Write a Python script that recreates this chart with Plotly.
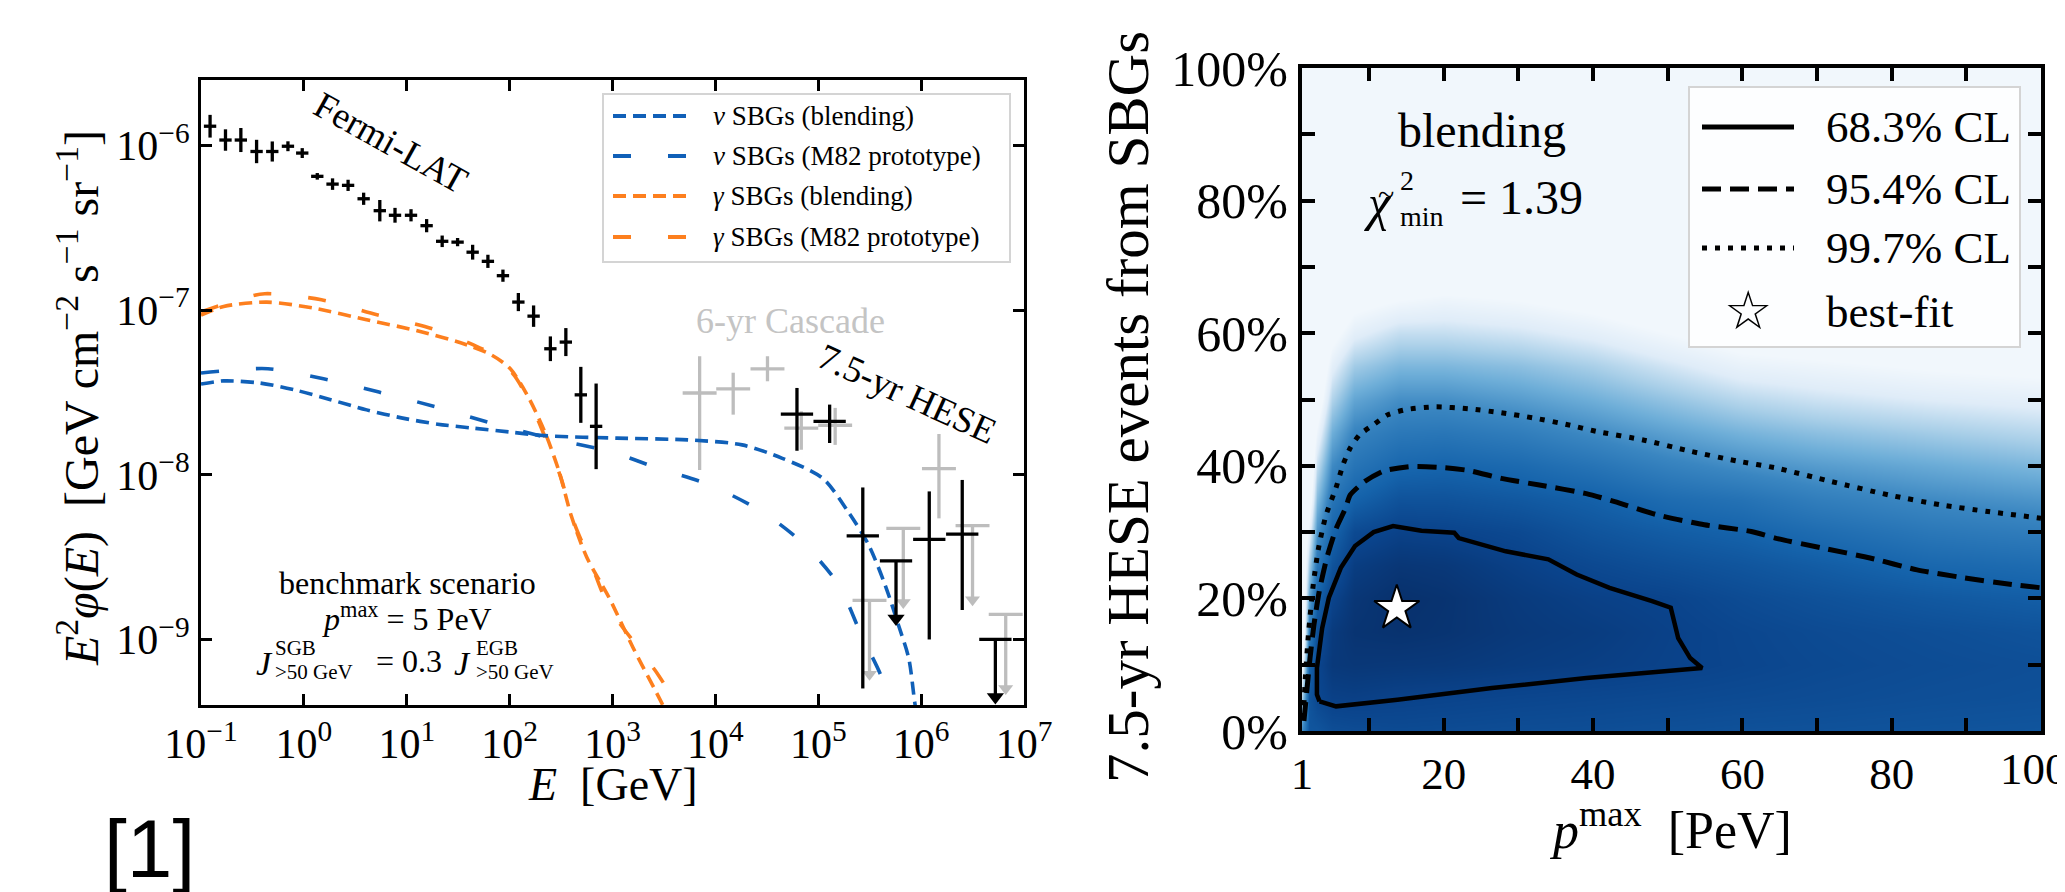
import plotly.graph_objects as go

W, H = 2065, 892
SERIF = "Liberation Serif"

# ---------------- left panel: data ----------------
fermi_E = [0.1225, 0.173, 0.244, 0.347, 0.493, 0.700, 0.964, 1.35, 1.90, 2.69, 3.81, 5.47, 7.69,
           11.0, 15.6, 22.1, 31.2, 43.7, 61.5, 86.1, 121.6, 171, 249, 352, 492, 693]
fermi_F = [1.31e-6, 1.08e-6, 1.08e-6, 9.2e-7, 9.2e-7, 9.9e-7, 9.0e-7, 6.5e-7, 5.83e-7, 5.73e-7,
           4.75e-7, 4.02e-7, 3.77e-7, 3.77e-7, 3.26e-7, 2.62e-7, 2.59e-7, 2.25e-7, 1.98e-7,
           1.62e-7, 1.12e-7, 9.2e-8, 5.83e-8, 6.4e-8, 3.06e-8, 1.97e-8]
fermi_err_dex = [0.069, 0.065, 0.073, 0.071, 0.061, 0.03, 0.03, 0.02, 0.035, 0.034, 0.037, 0.065,
                 0.045, 0.037, 0.04, 0.035, 0.025, 0.045, 0.04, 0.037, 0.055, 0.065, 0.075, 0.085,
                 0.17, 0.26]
fermi_bin_half_dex = 0.06

hese_E = [6.21e4, 1.29e5, 2.71e5, 1.20e6, 2.51e6]
hese_F = [2.34e-8, 2.11e-8, 4.26e-9, 4.06e-9, 4.36e-9]
hese_F_hi = [3.37e-8, 2.67e-8, 8.38e-9, 7.93e-9, 9.31e-9]
hese_F_lo = [1.40e-8, 1.56e-8, 5.04e-10, 1.0e-9, 1.51e-9]
hese_ul_E = [5.70e5, 5.27e6]
hese_ul_F = [3.0e-9, 1.0e-9]
hese_bin_half_dex = 0.157

cascade_E = [7.03e3, 1.49e4, 3.21e4, 6.84e4, 1.46e5, 1.49e6]
cascade_F = [3.14e-8, 3.33e-8, 4.40e-8, 1.92e-8, 2.0e-8, 1.09e-8]
cascade_F_hi = [5.25e-8, 4.17e-8, 5.25e-8, 2.43e-8, 2.55e-8, 1.77e-8]
cascade_F_lo = [1.07e-8, 2.32e-8, 3.70e-8, 1.42e-8, 1.52e-8, 5.44e-9]
cascade_ul_E = [3.15e5, 6.71e5, 3.16e6, 6.64e6]
cascade_ul_F = [1.73e-9, 4.73e-9, 4.92e-9, 1.42e-9]
cascade_bin_half_dex = 0.165

nu_blend_E = [0.1, 0.166, 0.372, 0.813, 1.82, 4.07, 9.12, 20.0, 44.7, 100, 219, 1.10e3, 5.37e3,
              1.82e4, 4.47e4, 1.10e5, 1.95e5, 3.09e5, 4.47e5, 6.03e5, 7.59e5, 8.71e5, 1.0e6]
nu_blend_F = [3.56e-8, 3.72e-8, 3.61e-8, 3.28e-8, 2.86e-8, 2.48e-8, 2.21e-8, 2.03e-8, 1.92e-8,
              1.82e-8, 1.73e-8, 1.67e-8, 1.63e-8, 1.52e-8, 1.26e-8, 9.55e-9, 5.98e-9, 3.75e-9,
              2.14e-9, 1.22e-9, 7.66e-10, 4.07e-10, 2.5e-10]
nu_m82_E = [0.1, 0.447, 1.55, 5.37, 18.6, 61.7, 251, 933, 2.63e3, 8.71e3, 2.82e4, 7.41e4, 1.58e5,
            2.63e5, 4.17e5, 5.01e5]
nu_m82_F = [4.15e-8, 4.41e-8, 3.83e-8, 3.18e-8, 2.60e-8, 2.09e-8, 1.66e-8, 1.39e-8, 1.11e-8,
            8.69e-9, 5.98e-9, 3.75e-9, 2.14e-9, 1.06e-9, 5.79e-10, 3.55e-10]
g_blend_E = [0.1, 0.166, 0.437, 1.23, 4.07, 13.5, 38.0, 66.1, 100, 148, 219, 302, 398, 562, 933,
             1585, 3090, 3981]
g_blend_F = [9.33e-8, 1.054e-7, 1.119e-7, 1.03e-7, 8.75e-8, 7.43e-8, 6.17e-8, 5.36e-8, 4.45e-8,
             3.06e-8, 1.83e-8, 1.05e-8, 5.62e-9, 3.16e-9, 1.78e-9, 8.91e-10, 3.98e-10, 2.82e-10]
g_m82_E = [0.1, 0.251, 0.417, 1.48, 5.13, 18.2, 56.2, 83.2, 112, 158, 224, 316, 417, 603, 933,
           1778, 2818, 4266, 5623]
g_m82_F = [9.77e-8, 1.175e-7, 1.259e-7, 1.156e-7, 9.38e-8, 7.67e-8, 5.75e-8, 4.90e-8, 3.98e-8,
           2.75e-8, 1.66e-8, 9.55e-9, 5.25e-9, 3.02e-9, 1.55e-9, 8.91e-10, 6.03e-10, 3.98e-10,
           3.16e-10]

x_ticks_left = [0.1, 1, 10, 100, 1e3, 1e4, 1e5, 1e6, 1e7]
x_ticklabels_left = ["10<sup>−1</sup>", "10<sup>0</sup>", "10<sup>1</sup>", "10<sup>2</sup>",
                     "10<sup>3</sup>", "10<sup>4</sup>", "10<sup>5</sup>", "10<sup>6</sup>",
                     "10<sup>7</sup>"]
y_ticks_left = [1e-9, 1e-8, 1e-7, 1e-6]
y_ticklabels_left = ["10<sup>−9</sup>", "10<sup>−8</sup>", "10<sup>−7</sup>", "10<sup>−6</sup>"]

# ---------------- right panel: data ----------------
grid_p = [1, 2, 3, 5, 8, 14, 20, 30, 40, 50, 60, 70, 85, 100]
grid_f = [0, 5, 10, 15, 20, 25, 30, 35, 40, 45, 50, 55, 60, 65, 70, 100]
chi2_by_p = [
    [12, 20, 28, 35, 35, 35, 35, 35, 35, 35, 35, 35, 35, 35, 35, 35],
    [4.5, 4.4, 6.6, 10.2, 15, 20, 26, 32, 35, 35, 35, 35, 35, 35, 35, 35],
    [4.5, 2.8, 2.6, 3.8, 6.1, 9.2, 13, 17.5, 22, 27, 32, 35, 35, 35, 35, 35],
    [3.6, 2.0, 1.1, 1.3, 2.4, 4.3, 6.5, 9.0, 12.1, 16, 20.5, 25, 30, 35, 35, 35],
    [3.4, 1.9, 0.9, 0.5, 0.8, 1.6, 3.1, 6.2, 8.9, 11.3, 15, 19.5, 25, 30, 35, 35],
    [3.2, 2.2, 1.0, 0.3, 0.1, 0.8, 2.1, 4.2, 6.8, 9.5, 12.6, 17, 22, 28, 35, 35],
    [3.3, 2.35, 1.1, 0.5, 0.4, 1.0, 2.3, 4.2, 6.4, 9.2, 12.6, 17, 22, 27, 33, 35],
    [3.5, 2.6, 1.5, 1.1, 1.3, 2.0, 3.0, 4.9, 7.2, 10.3, 14, 18, 23, 28, 33, 35],
    [3.6, 2.8, 1.8, 1.5, 2.0, 3.0, 4.4, 5.9, 8.8, 12.3, 16, 20, 25, 30, 35, 35],
    [3.8, 3.0, 2.2, 2.1, 2.4, 3.8, 5.4, 7.6, 10.9, 14.5, 18.5, 23, 28, 33, 35, 35],
    [4.0, 3.2, 2.6, 2.7, 3.3, 4.5, 6.2, 8.6, 12.6, 16.5, 21, 26, 31, 35, 35, 35],
    [4.1, 3.4, 3.0, 3.2, 4.0, 5.4, 7.6, 10.5, 14, 18, 22.5, 27, 32, 35, 35, 35],
    [4.3, 3.7, 3.4, 3.7, 4.9, 6.9, 9.4, 12.2, 15.5, 19.5, 24, 28.5, 33, 35, 35, 35],
    [4.5, 3.9, 3.7, 4.2, 5.6, 7.6, 10.3, 13.4, 17, 21, 25, 29.5, 34, 35, 35, 35],
]

cl68_p = [3.35, 5.56, 13.79, 26.45, 39.1, 54.6, 53.0, 51.4, 50.4, 47.9, 42.2, 37.8, 34.0, 28.3,
          22.0, 21.4, 17.0, 13.2, 10.6, 8.1, 6.2, 4.6, 3.7, 3.0, 3.0, 3.35]
cl68_f = [4.47, 3.72, 4.72, 6.48, 7.99, 9.5, 11.0, 14.0, 18.6, 19.6, 21.6, 23.6, 25.9, 27.1,
          29.1, 29.9, 30.2, 30.9, 30.0, 27.9, 24.6, 20.1, 15.5, 9.5, 5.5, 4.47]
cl95_p = [1.26, 1.64, 2.08, 2.6, 3.3, 4.3, 5.56, 6.83, 7.46, 9.36, 11.9, 15.69, 20.12, 23.3, 27.7,
          32.8, 39.1, 42.9, 48.6, 54.9, 61.2, 64.4, 70.7, 77.1, 83.4, 89.7, 96.1, 100]
cl95_f = [1.5, 6.0, 11.0, 16.0, 21.0, 26.0, 30.5, 33.6, 35.6, 37.6, 39.2, 39.9, 39.7, 39.3, 38.1,
          37.1, 35.8, 34.6, 32.6, 31.1, 30.1, 29.1, 27.6, 26.1, 24.3, 23.1, 22.1, 21.6]
cl997_p = [1.17, 1.44, 1.87, 2.5, 3.2, 4.2, 5.56, 6.51, 7.46, 8.73, 10.6, 12.5, 15.05, 18.85, 23.3,
           27.7, 32.1, 36.6, 40.4, 46.7, 53.0, 59.4, 64.4, 72.0, 79.6, 86.6, 92.9, 100]
cl997_f = [1.9, 7.9, 14.7, 22.0, 27.5, 32.5, 36.7, 40.2, 42.7, 44.7, 46.2, 47.7, 48.5, 48.9, 48.6,
           48.0, 47.2, 46.2, 45.2, 43.9, 42.2, 40.7, 39.7, 37.6, 35.6, 34.1, 33.1, 32.1]
best_p = [13.7]
best_f = [18.5]

x_ticks_right = [1, 10, 20, 30, 40, 50, 60, 70, 80, 90, 100]
x_ticklabels_right = ["1", "", "20", "", "40", "", "60", "", "80", "", ""]
last_x_label_right = "100"
y_ticks_right = [0, 10, 20, 30, 40, 50, 60, 70, 80, 90, 100]
y_ticklabels_right = ["0%", "", "20%", "", "40%", "", "60%", "", "80%", "", "100%"]

# ---------------- styles ----------------
BLUE = "#1060b8"
ORANGE = "#fd7f1e"
GREY = "#bdbdbd"
DASH_BLEND = "13px,7px"
DASH_M82 = "18px,37px"
UL_LEN_BLACK = 0.35
UL_LEN_GREY = 0.45


def xerr(E, half):
    return ([e * (10 ** half - 1) for e in E], [e * (1 - 10 ** -half) for e in E])


def yerr_dex(F, dex):
    return ([f * (10 ** d - 1) for f, d in zip(F, dex)], [f * (1 - 10 ** -d) for f, d in zip(F, dex)])


def yerr_bounds(F, hi, lo):
    return ([h - f for f, h in zip(F, hi)], [f - l for f, l in zip(F, lo)])


def points(E, F, xe, ye, color, width=3.3):
    return go.Scatter(
        x=E, y=F, mode="markers", marker=dict(size=1, color="rgba(0,0,0,0)"),
        error_x=dict(type="data", symmetric=False, array=xe[0], arrayminus=xe[1],
                     color=color, thickness=width, width=0),
        error_y=dict(type="data", symmetric=False, array=ye[0], arrayminus=ye[1],
                     color=color, thickness=width, width=0),
        xaxis="x", yaxis="y", hoverinfo="skip", showlegend=False)


def upper_limits(E, F, half, length, color, width=3.3, head=15):
    down = [f * (1 - 10 ** -length) for f in F]
    bar = points(E, F, xerr(E, half), ([0] * len(F), down), color, width)
    tips = go.Scatter(x=E, y=[f * 10 ** -length for f in F], mode="markers",
                      marker=dict(symbol="triangle-down", size=head, color=color, line=dict(width=0)),
                      xaxis="x", yaxis="y", hoverinfo="skip", showlegend=False)
    return [bar, tips]


def curve(E, F, color, dash):
    return go.Scatter(x=E, y=F, mode="lines", line=dict(color=color, width=3.6, dash=dash,
                      shape="spline", smoothing=0.8),
                      xaxis="x", yaxis="y", hoverinfo="skip", showlegend=False)


fig = go.Figure()

# grey cascade points first
fig.add_trace(points(cascade_E, cascade_F, xerr(cascade_E, cascade_bin_half_dex),
                     yerr_bounds(cascade_F, cascade_F_hi, cascade_F_lo), GREY))
for t in upper_limits(cascade_ul_E, cascade_ul_F, cascade_bin_half_dex, UL_LEN_GREY, GREY, head=13):
    fig.add_trace(t)

# model curves
fig.add_trace(curve(g_blend_E, g_blend_F, ORANGE, DASH_BLEND))
fig.add_trace(curve(g_m82_E, g_m82_F, ORANGE, DASH_M82))
fig.add_trace(curve(nu_blend_E, nu_blend_F, BLUE, DASH_BLEND))
fig.add_trace(curve(nu_m82_E, nu_m82_F, BLUE, DASH_M82))

# black data
fig.add_trace(points(fermi_E, fermi_F, xerr(fermi_E, fermi_bin_half_dex),
                     yerr_dex(fermi_F, fermi_err_dex), "black"))
fig.add_trace(points(hese_E, hese_F, xerr(hese_E, hese_bin_half_dex),
                     yerr_bounds(hese_F, hese_F_hi, hese_F_lo), "black"))
for t in upper_limits(hese_ul_E, hese_ul_F, hese_bin_half_dex, UL_LEN_BLACK, "black", head=15):
    fig.add_trace(t)

# ---------------- right panel ----------------
z = [list(row) for row in zip(*chi2_by_p)]
blues = [
    [0.0, "#08306b"], [0.066, "#0a438b"], [0.177, "#1563ab"], [0.337, "#3a86c1"],
    [0.457, "#6eaed8"], [0.571, "#a9cfe8"], [0.686, "#dfecf8"], [0.8, "#f1f7fc"], [1.0, "#f1f7fc"],
]
fig.add_trace(go.Heatmap(x=grid_p, y=grid_f, z=z, zsmooth="best", colorscale=blues, zmin=0, zmax=35,
                         showscale=False, xaxis="x2", yaxis="y2", hoverinfo="skip"))
fig.add_trace(go.Scatter(x=cl997_p, y=cl997_f, mode="lines",
                         line=dict(color="black", width=5, dash="5px,8px", shape="spline", smoothing=0.6),
                         xaxis="x2", yaxis="y2", hoverinfo="skip", showlegend=False))
fig.add_trace(go.Scatter(x=cl95_p, y=cl95_f, mode="lines",
                         line=dict(color="black", width=5, dash="19px,9px", shape="spline", smoothing=0.6),
                         xaxis="x2", yaxis="y2", hoverinfo="skip", showlegend=False))
fig.add_trace(go.Scatter(x=cl68_p, y=cl68_f, mode="lines", line=dict(color="black", width=4.5),
                         xaxis="x2", yaxis="y2", hoverinfo="skip", showlegend=False))
fig.add_trace(go.Scatter(x=best_p, y=best_f, mode="markers",
                         marker=dict(symbol="star", size=34, color="white", line=dict(color="black", width=2)),
                         xaxis="x2", yaxis="y2", hoverinfo="skip", showlegend=False))


# ---------------- layout ----------------
def axis(**kw):
    d = dict(showline=True, linecolor="black", mirror="ticks", ticks="inside", showgrid=False,
             zeroline=False, tickcolor="black", tickmode="array", automargin=False,
             ticklabeloverflow="allow", tickfont=dict(family=SERIF, size=42, color="black"))
    d.update(kw)
    return d


def px(x):
    return x / W


def py(y):
    return 1 - y / H


def ann(text, x, y, size, angle=0, color="black", xanchor="center", yanchor="middle", family=SERIF):
    return dict(text=text, x=px(x), y=py(y), xref="paper", yref="paper", showarrow=False,
                textangle=angle, font=dict(family=family, size=size, color=color),
                xanchor=xanchor, yanchor=yanchor)


def hline(x0, x1, y, width, dash, color):
    return dict(type="line", xref="paper", yref="paper", x0=px(x0), x1=px(x1), y0=py(y), y1=py(y),
                line=dict(color=color, width=width, dash=dash), layer="above")


def box(x0, y0, x1, y1):
    return dict(type="rect", xref="paper", yref="paper", x0=px(x0), x1=px(x1), y0=py(y1), y1=py(y0),
                line=dict(color="#d4d4d4", width=2), fillcolor="rgba(255,255,255,0.85)", layer="above")


annotations = [
    # left panel
    ann("<i>E</i><sup>2</sup><i>φ</i>(<i>E</i>)  [GeV cm<sup>−2</sup> s<sup>−1</sup> sr<sup>−1</sup>]",
        70, 390, 48, angle=-90),
    ann("<i>E</i>  [GeV]", 605, 776, 46),
    ann("Fermi-LAT", 383, 134, 37, angle=29),
    ann("6-yr Cascade", 782, 313, 36, color="#c4c4c4"),
    ann("7.5-yr HESE", 899, 385, 37, angle=24.5),
    ann("benchmark scenario", 399, 575, 32),
    ann("<i>p</i><sup>max</sup> = 5 PeV", 399, 609, 32),
    ann("<i>J</i>", 246, 655, 34, xanchor="left"),
    ann("SGB", 265, 640, 21, xanchor="left"),
    ann("&gt;50 GeV", 265, 664, 21, xanchor="left"),
    ann("= 0.3", 366, 653, 32, xanchor="left"),
    ann("<i>J</i>", 444, 655, 34, xanchor="left"),
    ann("EGB", 466, 640, 21, xanchor="left"),
    ann("&gt;50 GeV", 466, 664, 21, xanchor="left"),
    ann("[1]", 141, 840, 82, family="Liberation Sans"),
    # left legend text
    ann("<i>ν</i> SBGs (blending)", 703, 108, 27, xanchor="left"),
    ann("<i>ν</i> SBGs (M82 prototype)", 703, 148, 27, xanchor="left"),
    ann("<i>γ</i> SBGs (blending)", 703, 188, 27, xanchor="left"),
    ann("<i>γ</i> SBGs (M82 prototype)", 703, 229, 27, xanchor="left"),
    # right panel
    ann("7.5-yr HESE events from SBGs", 1120, 399, 59, angle=-90),
    ann("<i>p</i><sup>max</sup>  [PeV]", 1663, 818, 52),
    ann(last_x_label_right, 2026, 734, 45, yanchor="top"),
    ann("blending", 1474, 122, 48),
    ann("<i>χ</i>", 1354, 195, 50, xanchor="left"),
    ann("~", 1368, 186, 30, xanchor="left"),
    ann("2", 1390, 172, 28, xanchor="left"),
    ann("min", 1390, 208, 28, xanchor="left"),
    ann("= 1.39", 1450, 189, 48, xanchor="left"),
    ann("68.3% CL", 1816, 119, 45, xanchor="left"),
    ann("95.4% CL", 1816, 181, 45, xanchor="left"),
    ann("99.7% CL", 1816, 240, 45, xanchor="left"),
    ann("best-fit", 1816, 304, 45, xanchor="left"),
    ann("☆", 1740, 302, 54, family="DejaVu Sans"),
]

shapes = [
    box(595, 86, 1002, 254),
    hline(605, 680, 108, 4, DASH_BLEND, BLUE),
    hline(605, 680, 148, 4, DASH_M82, BLUE),
    hline(605, 680, 188, 4, DASH_BLEND, ORANGE),
    hline(605, 680, 229, 4, DASH_M82, ORANGE),
    box(1681, 79, 2012, 339),
    hline(1694, 1786, 119, 5, "solid", "black"),
    hline(1694, 1786, 181, 5, "19px,9px", "black"),
    hline(1694, 1786, 240, 5, "5px,8px", "black"),
]

fig.update_layout(
    width=W, height=H, autosize=False, margin=dict(l=0, r=0, t=0, b=0, autoexpand=False),
    paper_bgcolor="white", plot_bgcolor="white", showlegend=False,
    xaxis=axis(domain=[193 / W, 1016 / W], type="log", range=[-1, 7], anchor="y",
               tickvals=x_ticks_left, ticktext=x_ticklabels_left, linewidth=3, tickwidth=3, ticklen=11),
    yaxis=axis(domain=[1 - 697 / H, 1 - 72 / H], type="log", range=[-9.398, -5.602], anchor="x",
               tickvals=y_ticks_left, ticktext=y_ticklabels_left, linewidth=3, tickwidth=3, ticklen=11),
    xaxis2=axis(domain=[1294 / W, 2033 / W], range=[1, 100], anchor="y2",
                tickvals=x_ticks_right, ticktext=x_ticklabels_right, linewidth=4, tickwidth=3.5,
                ticklen=13, tickfont=dict(family=SERIF, size=45, color="black")),
    yaxis2=axis(domain=[1 - 723 / H, 1 - 60 / H], range=[0, 100], anchor="x2",
                tickvals=y_ticks_right, ticktext=y_ticklabels_right, linewidth=4, tickwidth=3.5,
                ticklen=13, tickfont=dict(family=SERIF, size=50, color="black")),
    annotations=annotations,
    shapes=shapes,
)

fig.write_html("out.html")
